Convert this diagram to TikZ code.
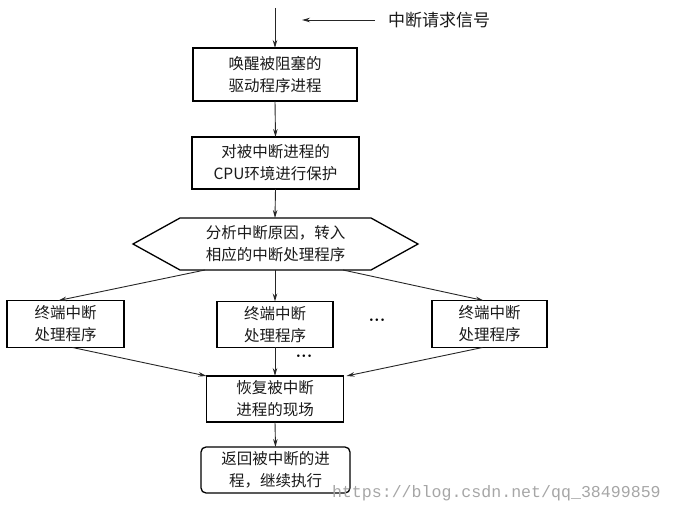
\documentclass[tikz,border=0pt]{standalone}
\usepackage{fontspec}
\newfontfamily\cjk{Noto Sans CJK SC}
\newfontfamily\wmono{Liberation Mono}
\usetikzlibrary{arrows.meta}
\begin{document}
\begin{tikzpicture}[x=1pt,y=-1pt,
  every node/.style={inner sep=0pt,outer sep=0pt},
  txt/.style={font=\cjk\fontsize{15.5}{22}\selectfont,align=center,text=black!90},
  procbox/.style={txt,draw=black,line width=1.3pt},
  conn/.style={draw=black!85,line width=0.9pt,-{Stealth[length=8pt,width=4.5pt]}},
  dotsnode/.style={font=\fontsize{18}{18}\selectfont\bfseries,text=black}]
\useasboundingbox (0,0) rectangle (673,513);
% nodes
\node[procbox,minimum width=164pt,minimum height=53pt] (b1) at (275,74.5) {唤醒被阻塞的\\驱动程序进程};
\node[procbox,minimum width=167pt,minimum height=52pt] (b2) at (275.5,163) {对被中断进程的\\CPU环境进行保护};
\node[txt,minimum width=285pt,minimum height=52pt] (hex) at (275.5,244) {分析中断原因，转入\\相应的中断处理程序};
\draw[black,line width=1.3pt] (hex.west) -- ([xshift=47pt]hex.north west) -- ([xshift=-47pt]hex.north east)
  -- (hex.east) -- ([xshift=-47pt]hex.south east) -- ([xshift=47pt]hex.south west) -- cycle;
\node[procbox,minimum width=117pt,minimum height=47pt] (L) at (65.5,324) {终端中断\\处理程序};
\node[procbox,minimum width=116pt,minimum height=46pt] (M) at (275,324.5) {终端中断\\处理程序};
\node[procbox,minimum width=115pt,minimum height=47pt] (R) at (489.5,324) {终端中断\\处理程序};
\node[procbox,minimum width=137pt,minimum height=46pt] (rec) at (275,399) {恢复被中断\\进程的现场};
\node[procbox,rounded corners=5pt,minimum width=149pt,minimum height=46pt] (fin) at (275.5,470) {返回被中断的进\\程，继续执行};
\node[dotsnode] (d1) at (377,320) {...};
\node[dotsnode] (d2) at (304,356) {...};
\node[font=\cjk\fontsize{17}{17}\selectfont,text=black!90,anchor=west] (sig) at (388,20) {中断请求信号};
\node[font=\wmono\fontsize{16.6}{16.6}\selectfont,text=black!35,anchor=west] (wm) at (332,493) {https://blog.csdn.net/qq\_38499859};
% coordinates
\coordinate (top) at (275,8);
\coordinate (sigs) at (375,20);
\coordinate (sige) at (302,20);
% connectors
\draw[conn] (top) -- (b1.north);
\draw[conn] (sigs) -- (sige);
\draw[conn] (b1.south) -- (b2.north);
\draw[conn] (b2.south) -- ([xshift=-0.5pt]hex.north);
\draw[conn] ([xshift=72pt]hex.south west) -- ([xshift=-7pt]L.north);
\draw[conn] ([xshift=-0.5pt]hex.south) -- (M.north);
\draw[conn] ([xshift=-75pt]hex.south east) -- ([xshift=-6pt]R.north);
\draw[conn] ([xshift=7pt]L.south) -- (rec.north west);
\draw[conn] (M.south) -- (rec.north);
\draw[conn] ([xshift=-7pt]R.south) -- ([xshift=3pt]rec.north east);
\draw[conn] (rec.south) -- (fin.north);
\end{tikzpicture}
\end{document}
